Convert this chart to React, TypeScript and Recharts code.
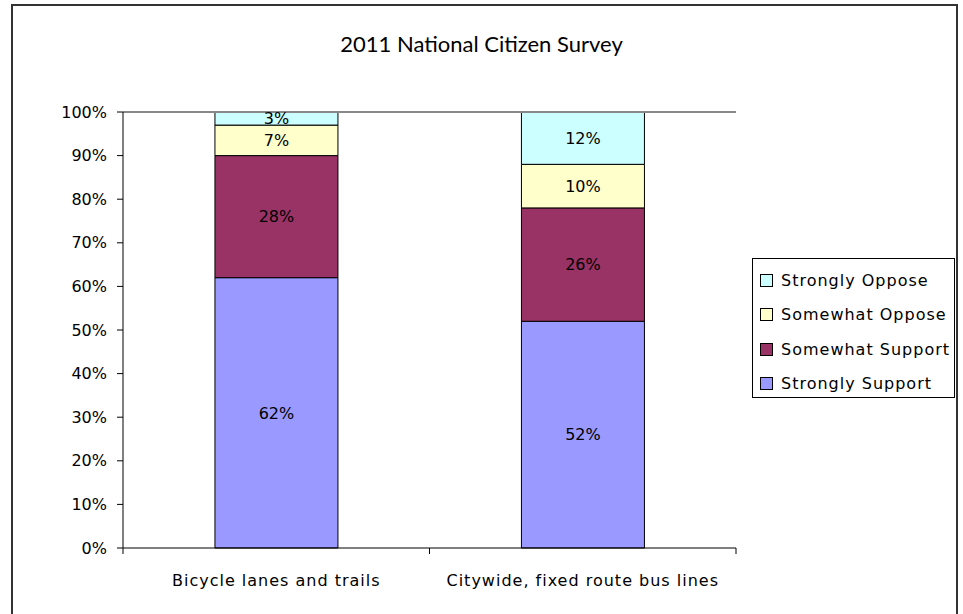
import { BarChart, Bar, XAxis, YAxis, LabelList, ReferenceLine } from "recharts";

const categories = ["Bicycle lanes and trails", "Citywide, fixed route bus lines"];
const stronglySupport = [62, 52];
const somewhatSupport = [28, 26];
const somewhatOppose = [7, 10];
const stronglyOppose = [3, 12];
const yTicks = [0, 10, 20, 30, 40, 50, 60, 70, 80, 90, 100];

const series = [
  { key: "ss", name: "Strongly Support", color: "#9999FF" },
  { key: "sws", name: "Somewhat Support", color: "#993366" },
  { key: "swo", name: "Somewhat Oppose", color: "#FFFFCC" },
  { key: "so", name: "Strongly Oppose", color: "#CCFFFF" },
];

const data = categories.map((name, i) => ({
  name,
  ss: stronglySupport[i],
  sws: somewhatSupport[i],
  swo: somewhatOppose[i],
  so: stronglyOppose[i],
}));

const FONT = "'DejaVu Sans', Verdana, sans-serif";

// category label plus tick marks on both edges of the band, like Excel
function CategoryTick(props: any) {
  const { x, y, payload, width, visibleTicksCount } = props;
  const half = width / (2 * visibleTicksCount);
  return (
    <g>
      <line x1={x - half} x2={x - half} y1={y} y2={y + 6} stroke="#000" />
      <line x1={x + half} x2={x + half} y1={y} y2={y + 6} stroke="#000" />
      <text
        x={x}
        y={y + 38}
        textAnchor="middle"
        fill="#000"
        style={{ fontFamily: FONT, fontSize: 16, letterSpacing: 1 }}
      >
        {payload.value}
      </text>
    </g>
  );
}

function LegendBox() {
  return (
    <div
      style={{
        position: "absolute",
        left: 752,
        top: 258,
        border: "1px solid #000",
        width: 203,
        height: 140,
        boxSizing: "border-box",
        paddingTop: 4,
        paddingLeft: 7,
        fontFamily: FONT,
        fontSize: 16,
        letterSpacing: 1,
        background: "#fff",
      }}
    >
      {[...series].reverse().map((s) => (
        <div key={s.key} style={{ display: "flex", alignItems: "center", height: 34.5 }}>
          <span
            style={{
              display: "inline-block",
              width: 11,
              height: 11,
              background: s.color,
              border: "1px solid #000",
              marginRight: 8,
            }}
          />
          <span>{s.name}</span>
        </div>
      ))}
    </div>
  );
}

export default function App() {
  return (
    <div style={{ position: "absolute", left: 0, top: 0, width: 963, height: 614, background: "#fff" }}>
      <div
        style={{
          position: "absolute",
          left: 11,
          top: 4,
          width: 947,
          height: 610,
          borderTop: "2px solid #333",
          borderLeft: "2px solid #333",
          borderRight: "2px solid #333",
          boxSizing: "border-box",
        }}
      />
      <div
        style={{
          position: "absolute",
          left: 0,
          width: 963,
          top: 30,
          textAlign: "center",
          fontFamily: "Lato, 'Open Sans', sans-serif",
          fontSize: 22,
          color: "#000",
        }}
      >
        2011 National Citizen Survey
      </div>
      <BarChart
        width={963}
        height={614}
        data={data}
        margin={{ top: 112, right: 227, bottom: 0, left: 0 }}
        barCategoryGap="30%"
        style={{ position: "absolute", left: 0, top: 0 }}
      >
        <XAxis
          dataKey="name"
          height={66}
          tickLine={false}
          tickSize={0}
          tickMargin={0}
          axisLine={{ stroke: "#000" }}
          interval={0}
          tick={<CategoryTick />}
        />
        <YAxis
          width={123}
          domain={[0, 100]}
          ticks={yTicks}
          tickFormatter={(v) => `${v}%`}
          axisLine={{ stroke: "#000" }}
          tickLine={{ stroke: "#000" }}
          tickSize={6}
          tickMargin={10}
          interval={0}
          tick={{ fill: "#000", fontFamily: FONT, fontSize: 16 }}
        />
        <YAxis
          yAxisId="r"
          orientation="right"
          width={0}
          domain={[0, 100]}
          tick={false}
          tickLine={false}
          axisLine={{ stroke: "#888", strokeWidth: 2 }}
        />
        <ReferenceLine y={100} stroke="#888" strokeWidth={2} />
        {series.map((s) => (
          <Bar
            key={s.key}
            dataKey={s.key}
            name={s.name}
            stackId="a"
            fill={s.color}
            stroke="#000"
            strokeWidth={1}
            isAnimationActive={false}
          >
            <LabelList
              dataKey={s.key}
              position="center"
              formatter={(v: number) => `${v}%`}
              style={{ fill: "#000", fontFamily: FONT, fontSize: 16 }}
            />
          </Bar>
        ))}
      </BarChart>
      <LegendBox />
    </div>
  );
}
